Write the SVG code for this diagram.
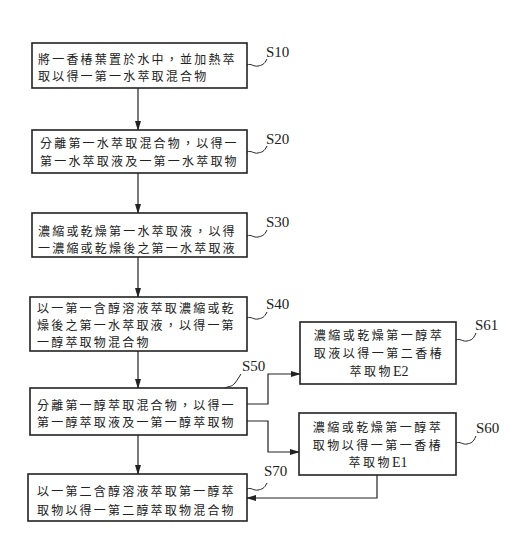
<svg xmlns="http://www.w3.org/2000/svg" width="529" height="553" viewBox="0 0 529 553">
<style>
.box{fill:#fff;stroke:#222;stroke-width:1.6}
.t{font-family:"Noto Sans CJK TC","Noto Sans CJK SC",sans-serif;font-size:12px;letter-spacing:2.2px;fill:#222}
.tc{font-family:"Noto Sans CJK TC","Noto Sans CJK SC",sans-serif;font-size:12px;letter-spacing:2.5px;fill:#222;text-anchor:middle}
.e{font-family:"Liberation Serif",serif;font-size:14px;letter-spacing:0}
.lab{font-family:"Liberation Serif",serif;font-size:15px;fill:#222}
.ln{fill:none;stroke:#222;stroke-width:1.2}
.w{fill:none;stroke:#222;stroke-width:1}
</style>
<defs>
<marker id="ah" markerWidth="10" markerHeight="8" refX="9" refY="4" orient="auto" markerUnits="userSpaceOnUse">
<path d="M0,1 L10,4 L0,7 Z" fill="#222"/>
</marker>
</defs>
<g id="connectors">
<line class="ln" x1="138" y1="88" x2="138" y2="130" marker-end="url(#ah)"/>
<line class="ln" x1="138" y1="173" x2="138" y2="213" marker-end="url(#ah)"/>
<line class="ln" x1="138" y1="257" x2="138" y2="297" marker-end="url(#ah)"/>
<line class="ln" x1="138" y1="351" x2="138" y2="388" marker-end="url(#ah)"/>
<line class="ln" x1="138" y1="435" x2="138" y2="474" marker-end="url(#ah)"/>
<path class="ln" d="M247,404 H268 V374 H300" marker-end="url(#ah)"/>
<path class="ln" d="M247,421 H268 V452 H299" marker-end="url(#ah)"/>
<path class="ln" d="M377,475 V498 H247" marker-end="url(#ah)"/>
</g>
<g id="S10">
<rect class="box" x="32" y="43" width="215" height="45"/>
<text class="t" x="38" y="64">將一香椿葉置於水中，並加熱萃</text>
<text class="t" x="38" y="81">取以得一第一水萃取混合物</text>
<path class="w" d="M247,65 c4,-2 7,2 11,1 c4,-1 6,-1 9,-7"/>
<text class="lab" x="266" y="57">S10</text>
</g>
<g id="S20">
<rect class="box" x="32" y="130" width="215" height="43"/>
<text class="t" x="40" y="148">分離第一水萃取混合物，以得一</text>
<text class="t" x="40" y="166">第一水萃取液及一第一水萃取物</text>
<path class="w" d="M247,152 c4,-2 7,2 11,1 c4,-1 6,-1 9,-7"/>
<text class="lab" x="266" y="144">S20</text>
</g>
<g id="S30">
<rect class="box" x="32" y="213" width="215" height="44"/>
<text class="t" x="38" y="236">濃縮或乾燥第一水萃取液，以得</text>
<text class="t" x="38" y="253">一濃縮或乾燥後之第一水萃取液</text>
<path class="w" d="M247,236 c4,-2 7,2 11,1 c4,-1 6,-1 9,-7"/>
<text class="lab" x="266" y="227">S30</text>
</g>
<g id="S40">
<rect class="box" x="30" y="297" width="217" height="54"/>
<text class="t" x="37" y="313">以一第一含醇溶液萃取濃縮或乾</text>
<text class="t" x="37" y="330">燥後之第一水萃取液，以得一第</text>
<text class="t" x="37" y="347">一醇萃取物混合物</text>
<path class="w" d="M247,318 c4,-2 7,2 11,1 c4,-1 6,-1 9,-7"/>
<text class="lab" x="266" y="309">S40</text>
</g>
<g id="S50">
<rect class="box" x="30" y="388" width="217" height="47"/>
<text class="t" x="37" y="410">分離第一醇萃取混合物，以得一</text>
<text class="t" x="37" y="427">第一醇萃取液及一第一醇萃取物</text>
<path class="w" d="M225,388 c4,-2 7,-1 10,-5 c3,-4 4,-6 6,-9"/>
<text class="lab" x="242" y="371">S50</text>
</g>
<g id="S61">
<rect class="box" x="300" y="322" width="156" height="62"/>
<text class="tc" x="379" y="340">濃縮或乾燥第一醇萃</text>
<text class="tc" x="379" y="358">取液以得一第二香椿</text>
<text class="tc" x="379" y="376">萃取物<tspan class="e">E2</tspan></text>
<path class="w" d="M456,340 c4,-2 7,2 11,1 c4,-1 6,-1 9,-8"/>
<text class="lab" x="475" y="330">S61</text>
</g>
<g id="S60">
<rect class="box" x="299" y="413" width="157" height="62"/>
<text class="tc" x="378" y="432">濃縮或乾燥第一醇萃</text>
<text class="tc" x="378" y="450">取物以得一第一香椿</text>
<text class="tc" x="378" y="467">萃取物<tspan class="e">E1</tspan></text>
<path class="w" d="M456,443 c4,-2 7,2 11,1 c4,-1 6,-1 9,-8"/>
<text class="lab" x="476" y="433">S60</text>
</g>
<g id="S70">
<rect class="box" x="28" y="474" width="219" height="47"/>
<text class="t" x="37" y="496">以一第二含醇溶液萃取第一醇萃</text>
<text class="t" x="37" y="515">取物以得一第二醇萃取物混合物</text>
<path class="w" d="M247,489 c4,-2 7,2 11,1 c4,-1 6,-1 9,-7"/>
<text class="lab" x="264" y="476">S70</text>
</g>
</svg>
